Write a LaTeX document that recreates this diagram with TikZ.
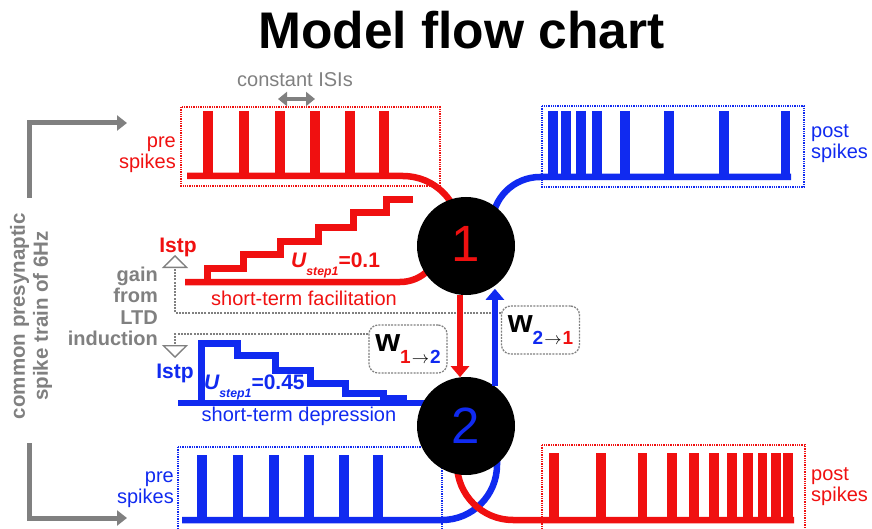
\documentclass[tikz,border=0pt]{standalone}
\usepackage{fontspec}
\setmainfont{Liberation Sans}
\usetikzlibrary{arrows.meta}
\definecolor{myred}{RGB}{240,16,16}
\definecolor{myblue}{RGB}{16,42,240}
\definecolor{mygray}{RGB}{128,128,128}
\newcommand{\wlab}[2]{{\fontsize{32}{32}\selectfont\bfseries w}\raisebox{-12pt}{\fontsize{19}{19}\selectfont\bfseries #1\kern1pt$\rightarrow$\kern1pt#2}}
\begin{document}
\begin{tikzpicture}[x=1pt,y=-1pt,
  spk/.style={line width=10pt},
  spkpost/.style={line width=9.5pt},
  trainbase/.style={line width=6.5pt},
  stair/.style={line width=7pt, line join=miter},
  dbox/.style={densely dotted, line width=1.3pt},
  neuron/.style={circle, fill=black, minimum size=98pt, inner sep=0pt, font=\fontsize{51}{51}\selectfont},
  wbox/.style={draw=mygray, dash pattern=on 2pt off 1.2pt, line width=1.3pt, rounded corners=9pt, minimum width=78pt, minimum height=48pt, inner sep=0pt},
  gainline/.style={draw=mygray, dash pattern=on 2pt off 1.2pt, line width=1.5pt, -{Triangle[open, width=26pt, length=13pt, line width=1.3pt]}},
  grayarrow/.style={draw=mygray, line width=5pt, -{Triangle[width=15pt, length=10pt]}},
  syn/.style={line width=6pt, -{Triangle[width=18pt, length=11pt]}},
  lbl/.style={font=\fontsize{20}{21}\selectfont, inner sep=0pt},
  glbl/.style={font=\fontsize{20}{21.5}\selectfont\bfseries, text=mygray, inner sep=0pt},
]
\useasboundingbox (0,0) rectangle (872,529);

% title
\node[font=\fontsize{51.5}{52}\selectfont\bfseries, anchor=base, inner sep=0pt] (title) at (461.5,48.5) {Model flow chart};

% spike train boxes
\draw[dbox, myred] (181,107) rectangle (440,186);
\draw[dbox, myblue] (542,106) rectangle (804,187);
\draw[dbox, myblue] (178,447) rectangle (442,532);
\draw[dbox, myred] (542,445) rectangle (805,532);

% spikes
\foreach \x in {208,244,280,315,350,384} \draw[spk, myred] (\x,111) -- (\x,176);
\foreach \x in {553,566,581,597,625,669,724,785.5} \draw[spkpost, myblue] (\x,111) -- (\x,177);
\foreach \x in {202,238,274,309,344,378} \draw[spk, myblue] (\x,455) -- (\x,520);
\foreach \x in {554,601,642.5,672,694,714,732,748,762.5,776,788} \draw[spkpost, myred] (\x,453) -- (\x,520);

% train baselines and curves into neurons
\draw[trainbase, myred, rounded corners=57pt] (187,176) -- (460,176) -- (460,265);
\draw[trainbase, myblue, rounded corners=48pt] (791,177) -- (492,177) -- (492,262);
\draw[trainbase, myblue, rounded corners=55pt] (182,520) -- (497,520) -- (497,420);
\draw[trainbase, myred, rounded corners=56pt] (794,520) -- (457,520) -- (457,430);

% short-term plasticity traces
\draw[trainbase, myred, rounded corners=40pt] (185,282) -- (440,282) -- (440,232);
\draw[stair, myred] (207,282) |- (243,268) |- (280,255) |- (318,242) |- (353,228) |- (386,213) |- (413,200);
\draw[trainbase, myblue] (178,403) -- (430,403);
\draw[stair, myblue] (201,403) |- (237,343) |- (275,355) |- (310,370) |- (345,383) |- (383,393) |- (403,398) -- (403,403);

% common presynaptic arrows
\node[glbl, rotate=90, align=center, font=\fontsize{20.5}{23}\selectfont\bfseries] (common) at (31,316) {common presynaptic\\spike train of 6Hz};
\coordinate (c1s) at (29,198);
\coordinate (c1e) at (127,123);
\coordinate (c2s) at (29,443);
\coordinate (c2e) at (127,518);
\draw[grayarrow] (c1s) |- (c1e);
\draw[grayarrow] (c2s) |- (c2e);

% constant ISIs
\node[lbl, text=mygray, anchor=base] (isi) at (295,87) {constant ISIs};
\coordinate (isiL) at (278,99);
\coordinate (isiR) at (315,99);
\draw[draw=mygray, line width=4.5pt, {Triangle[width=14pt,length=9pt]}-{Triangle[width=14pt,length=9pt]}] (isiL) -- (isiR);

% labels
\node[lbl, text=myred, align=right, anchor=east] (pre1) at (176,154.5) {pre\\spikes};
\node[lbl, text=myblue, align=left, anchor=west] (post1) at (811,143.5) {post\\spikes};
\node[lbl, text=myblue, align=right, anchor=east] (pre2) at (174,490) {pre\\spikes};
\node[lbl, text=myred, align=left, anchor=west] (post2) at (811,487) {post\\spikes};

\node[lbl, text=myred, anchor=base] (stf) at (304,305) {short-term facilitation};
\node[lbl, text=myblue, anchor=base] (std) at (299,421) {short-term depression};

\node[anchor=base west, inner sep=0pt, text=myred, font=\bfseries] (u1) at (291,267) {\fontsize{21}{21}\selectfont\itshape U\raisebox{-9pt}{\fontsize{12.3}{12}\selectfont step1}\upshape =0.1};
\node[anchor=base west, inner sep=0pt, text=myblue, font=\bfseries] (u2) at (204,389) {\fontsize{21}{21}\selectfont\itshape U\raisebox{-8pt}{\fontsize{12.3}{12}\selectfont step1}\upshape =0.45};

\node[font=\fontsize{21}{21}\selectfont\bfseries, text=myred, inner sep=0pt] (istp1) at (178,247) {Istp};
\node[font=\fontsize{21}{21}\selectfont\bfseries, text=myblue, inner sep=0pt] (istp2) at (175,373) {Istp};

\node[glbl, align=right, anchor=east] (gain) at (158,306.5) {gain\\from\\LTD\\induction};

% weight boxes
\node[wbox] (w12) at (408,349) {\wlab{\textcolor{myred}{1}}{\textcolor{myblue}{2}}};
\node[wbox] (w21) at (540.5,330) {\wlab{\textcolor{myblue}{2}}{\textcolor{myred}{1}}};

% gain lines
\coordinate (g1) at (175,255);
\coordinate (g2) at (175,358);
\draw[gainline] ([yshift=17pt]w21.west) -| (g1);
\draw[gainline] ([yshift=15pt]w12.west) -| (g2);

% neurons
\node[neuron, text=myred] (n1) at (466,246) {\raisebox{4pt}{1}};
\node[neuron, text=myblue] (n2) at (466,426) {\raisebox{-2pt}{2}};

% synaptic arrows
\draw[syn, myred] (n1.-97) -- (n2.97);
\draw[syn, myblue, shorten >=3pt] (n2.54) -- (n1.-54);
\end{tikzpicture}
\end{document}
